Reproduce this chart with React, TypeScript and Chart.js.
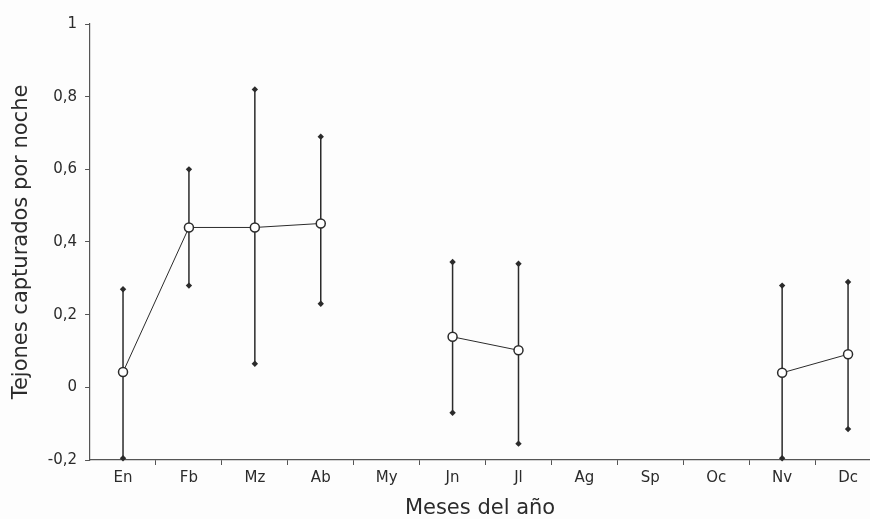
import React, { useEffect, useRef } from "react";
import { Chart, registerables } from "chart.js";

Chart.register(...registerables);

const months = ["En", "Fb", "Mz", "Ab", "My", "Jn", "Jl", "Ag", "Sp", "Oc", "Nv", "Dc"];
const meanValues: (number | null)[] = [0.042, 0.44, 0.44, 0.451, null, 0.139, 0.102, null, null, null, 0.04, 0.091];
const upperValues: (number | null)[] = [0.27, 0.6, 0.82, 0.69, null, 0.345, 0.34, null, null, null, 0.28, 0.29];
const lowerValues: (number | null)[] = [-0.195, 0.28, 0.065, 0.23, null, -0.07, -0.155, null, null, null, -0.195, -0.115];
const yTickValues = [-0.2, 0, 0.2, 0.4, 0.6, 0.8, 1];

const FONT = "'DejaVu Sans', Verdana, sans-serif";
const INK = "#2b2b2b";
const AXIS = "#555555";

export default function App() {
  const ref = useRef<HTMLCanvasElement | null>(null);

  useEffect(() => {
    document.body.style.margin = "0";
    const canvas = ref.current;
    if (!canvas) return;

    const meanData = months.map((_, i) => ({ x: i, y: meanValues[i] }));
    const whiskerData: { x: number; y: number | null }[] = [];
    months.forEach((_, i) => {
      if (lowerValues[i] === null || upperValues[i] === null) return;
      whiskerData.push({ x: i, y: lowerValues[i] });
      whiskerData.push({ x: i, y: upperValues[i] });
      whiskerData.push({ x: i, y: null });
    });

    const chart = new Chart(canvas, {
      type: "line",
      data: {
        datasets: [
          {
            label: "Media",
            data: meanData as any,
            order: 0,
            borderColor: INK,
            borderWidth: 1,
            backgroundColor: "#ffffff",
            pointStyle: "circle",
            pointRadius: 4.5,
            pointBorderWidth: 1.5,
            pointBorderColor: INK,
            pointBackgroundColor: "#ffffff",
            spanGaps: false,
            tension: 0,
            clip: false as any,
          },
          {
            label: "Intervalo",
            data: whiskerData as any,
            order: 1,
            borderColor: INK,
            borderWidth: 1.5,
            pointStyle: "rectRot",
            pointRadius: 3.2,
            pointBorderWidth: 0,
            pointBackgroundColor: INK,
            spanGaps: false,
            tension: 0,
            clip: false as any,
          },
        ],
      },
      options: {
        animation: false,
        responsive: false,
        maintainAspectRatio: false,
        layout: { autoPadding: false, padding: { top: 24, right: 0, left: 4, bottom: 0 } },
        plugins: { legend: { display: false }, tooltip: { enabled: false } },
        scales: {
          x: {
            type: "linear",
            min: -0.5,
            max: 11.333,
            afterBuildTicks: (scale: any) => {
              const t: { value: number }[] = [];
              for (let v = 0; v <= 11; v += 0.5) t.push({ value: v });
              scale.ticks = t;
            },
            ticks: {
              autoSkip: false,
              maxRotation: 0,
              minRotation: 0,
              padding: 5,
              color: INK,
              font: { family: FONT, size: 15, lineHeight: 1.1 },
              callback: (value: any) => (Number.isInteger(value) ? months[value] : ""),
            },
            grid: {
              drawOnChartArea: false,
              tickLength: 5,
              tickWidth: 1,
              tickColor: (ctx: any) =>
                ctx.tick && Number.isInteger(ctx.tick.value) ? "rgba(0,0,0,0)" : AXIS,
            },
            border: { display: true, color: AXIS, width: 1.2 },
            title: {
              display: true,
              text: "Meses del año",
              color: INK,
              font: { family: FONT, size: 21, lineHeight: 1 },
              padding: { top: 6.5, bottom: 0 },
            },
          },
          y: {
            type: "linear",
            min: -0.2,
            max: 1,
            afterBuildTicks: (scale: any) => {
              scale.ticks = yTickValues.map((v) => ({ value: v }));
            },
            ticks: {
              padding: 8,
              color: INK,
              font: { family: FONT, size: 15 },
              callback: (value: any) => String(Math.round(Number(value) * 10) / 10).replace(".", ","),
            },
            grid: {
              drawOnChartArea: false,
              tickLength: 5,
              tickColor: AXIS,
            },
            border: { display: true, color: AXIS, width: 1.2 },
            title: {
              display: true,
              text: "Tejones capturados por noche",
              color: INK,
              font: { family: FONT, size: 21, lineHeight: 1 },
              padding: { top: 7.5, bottom: 7.3 },
            },
          },
        },
      },
    });

    return () => chart.destroy();
  }, []);

  return (
    <div style={{ position: "fixed", left: 0, top: 0, width: 870, height: 519, background: "#fdfdfd" }}>
      <canvas ref={ref} width={870} height={519} style={{ width: 870, height: 519, display: "block" }} />
    </div>
  );
}
